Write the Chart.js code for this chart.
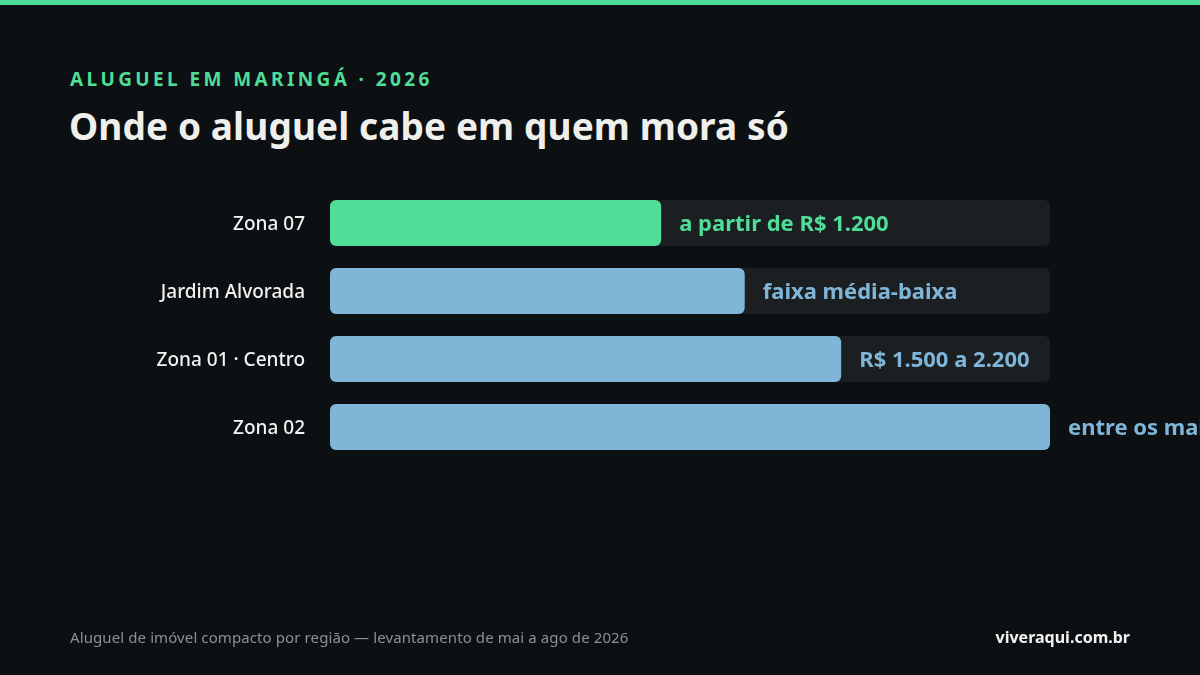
<!DOCTYPE html>
<html><head><meta charset="utf-8">
<script src="https://cdn.jsdelivr.net/npm/chart.js@4"></script>
<style>
html,body{margin:0;padding:0;background:#0d1012;width:1200px;height:675px;overflow:hidden;font-family:"Noto Sans","Open Sans",sans-serif}
#bar{position:absolute;left:0;top:0;width:1200px;height:5px;background:#4fdd98}
#kicker{position:absolute;left:70px;top:66px;font-size:19px;font-weight:700;letter-spacing:3.4px;color:#4fdd98}
#title{position:absolute;left:69px;top:100px;font-size:37px;font-weight:700;color:#efefec;letter-spacing:0.1px}
#foot{position:absolute;left:70px;top:627px;font-size:15px;color:#8a9196;letter-spacing:0.1px}
#brand{position:absolute;right:70px;top:626px;font-size:16px;font-weight:700;color:#f2f2f2}
#wrap{position:absolute;left:0;top:0;width:1200px;height:675px}
</style></head><body>
<div id="bar"></div>
<div id="kicker">ALUGUEL EM MARINGÁ · 2026</div>
<div id="title">Onde o aluguel cabe em quem mora só</div>
<div id="wrap"><canvas id="c" width="1200" height="675"></canvas></div>
<div id="foot">Aluguel de imóvel compacto por região — levantamento de mai a ago de 2026</div>
<div id="brand">viveraqui.com.br</div>
<script>
const categories = ["Zona 07","Jardim Alvorada","Zona 01 · Centro","Zona 02"];
const values = [46, 57.6, 71, 100];
const valueLabels = ["a partir de R$ 1.200","faixa média-baixa","R$ 1.500 a 2.200","entre os mais caros"];
const trackValues = [100,100,100,100];
const barColors = ["#4fdd98","#7fb5d6","#7fb5d6","#7fb5d6"];

const labelPlugin = {
  id:'lbl',
  afterDatasetsDraw(chart){
    const ctx = chart.ctx;
    const meta = chart.getDatasetMeta(1);
    ctx.save();
    meta.data.forEach((el,i)=>{
      ctx.font = '500 19px "Noto Sans"';
      ctx.fillStyle = '#f2f2f2';
      ctx.textAlign = 'right'; ctx.textBaseline = 'middle';
      ctx.fillText(categories[i], 305, el.y + 2);
      ctx.font = '700 22px "Noto Sans"';
      ctx.fillStyle = barColors[i];
      ctx.textAlign = 'left';
      ctx.fillText(valueLabels[i], el.x + 18, el.y + 2);
    });
    ctx.restore();
  }
};

new Chart(document.getElementById('c'), {
  type:'bar',
  data:{labels:categories, datasets:[
    {data:trackValues, backgroundColor:'#1b1f22', borderRadius:6, borderSkipped:false, grouped:false, order:2, barPercentage:0.676, categoryPercentage:1},
    {data:values, backgroundColor:barColors, borderRadius:6, borderSkipped:false, grouped:false, order:1, barPercentage:0.676, categoryPercentage:1}
  ]},
  options:{
    indexAxis:'y', responsive:false, animation:false,
    layout:{padding:{left:330,right:150,top:189,bottom:214}},
    plugins:{legend:{display:false},tooltip:{enabled:false}},
    scales:{
      x:{display:false,min:0,max:100},
      y:{display:false}
    }
  },
  plugins:[labelPlugin]
});
</script>
</body></html>
